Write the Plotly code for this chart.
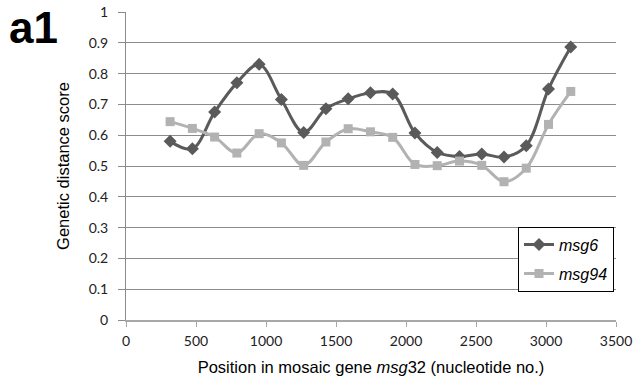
import plotly.graph_objects as go

positions = [315, 474, 633, 792, 951, 1110, 1269, 1428, 1587, 1746, 1905,
             2064, 2223, 2382, 2541, 2700, 2859, 3018, 3177]
msg6 = [0.580, 0.556, 0.675, 0.770, 0.830, 0.716, 0.609, 0.686, 0.718, 0.738,
        0.734, 0.607, 0.544, 0.531, 0.539, 0.529, 0.566, 0.750, 0.886]
msg94 = [0.644, 0.622, 0.594, 0.542, 0.605, 0.575, 0.502, 0.578, 0.621, 0.611,
         0.593, 0.505, 0.501, 0.516, 0.502, 0.449, 0.493, 0.635, 0.742]
x_ticks = [0, 500, 1000, 1500, 2000, 2500, 3000, 3500]
y_ticks = [0, 0.1, 0.2, 0.3, 0.4, 0.5, 0.6, 0.7, 0.8, 0.9, 1]
y_tick_labels = ["0", "0.1", "0.2", "0.3", "0.4", "0.5", "0.6", "0.7", "0.8", "0.9", "1"]

fig = go.Figure()
fig.add_trace(go.Scatter(
    x=positions, y=msg6, name="<i>msg6</i>", mode="lines+markers",
    legendgroup="g1",
    line=dict(color="#5a5a5a", width=3, shape="spline", smoothing=1),
    marker=dict(symbol="diamond", size=10, color="#5a5a5a"),
))
fig.add_trace(go.Scatter(
    x=positions, y=msg94, name="<i>msg94</i>", mode="lines+markers",
    legendgroup="g2",
    line=dict(color="#b2b2b2", width=3, shape="spline", smoothing=1),
    marker=dict(symbol="square", size=9, color="#b2b2b2"),
))

fig.update_layout(
    width=639, height=384,
    margin=dict(l=126, r=23, t=12, b=64),
    paper_bgcolor="white", plot_bgcolor="white",
    font=dict(family="Liberation Sans, Arial, sans-serif", color="black"),
    showlegend=True,
    legend=dict(
        x=0.8, y=0.303, xanchor="left", yanchor="top",
        bordercolor="black", borderwidth=1, bgcolor="white",
        font=dict(size=16, family="Liberation Sans, Arial"),
        tracegroupgap=5, itemwidth=30,
    ),
    xaxis=dict(
        range=[0, 3500], tickvals=x_ticks, ticktext=[str(v) for v in x_ticks],
        showgrid=False, zeroline=False, automargin=False,
        showline=True, linecolor="#a8a8a8", linewidth=2,
        ticks="outside", ticklen=5, tickcolor="#a8a8a8", tickwidth=1,
        ticklabelstandoff=2,
        tickfont=dict(family="Lato, sans-serif", size=14, color="#222"),
        title=dict(text="Position in mosaic gene <i>msg</i>32 (nucleotide no.)",
                   font=dict(size=16.5, family="Liberation Sans, Arial"), standoff=14),
    ),
    yaxis=dict(
        range=[0, 1], tickvals=y_ticks, ticktext=y_tick_labels,
        showgrid=True, gridcolor="#8c8c8c", gridwidth=1, zeroline=False,
        automargin=False,
        showline=True, linecolor="#8c8c8c", linewidth=1,
        ticks="outside", ticklen=7, tickcolor="#8c8c8c",
        ticklabelstandoff=7,
        tickfont=dict(family="Lato, sans-serif", size=14, color="#222"),
        title=dict(text="Genetic distance score",
                   font=dict(size=16.5, family="Liberation Sans, Arial"), standoff=14),
    ),
)

fig.add_annotation(
    text="<b>a1</b>", xref="paper", yref="paper",
    x=-0.243, y=1.035, xanchor="left", yanchor="top", showarrow=False,
    font=dict(size=44, family="Liberation Sans, Arial", color="black"),
)

fig.write_html("out.html", config={"displayModeBar": False},
               post_script="document.body.style.margin='0';")
